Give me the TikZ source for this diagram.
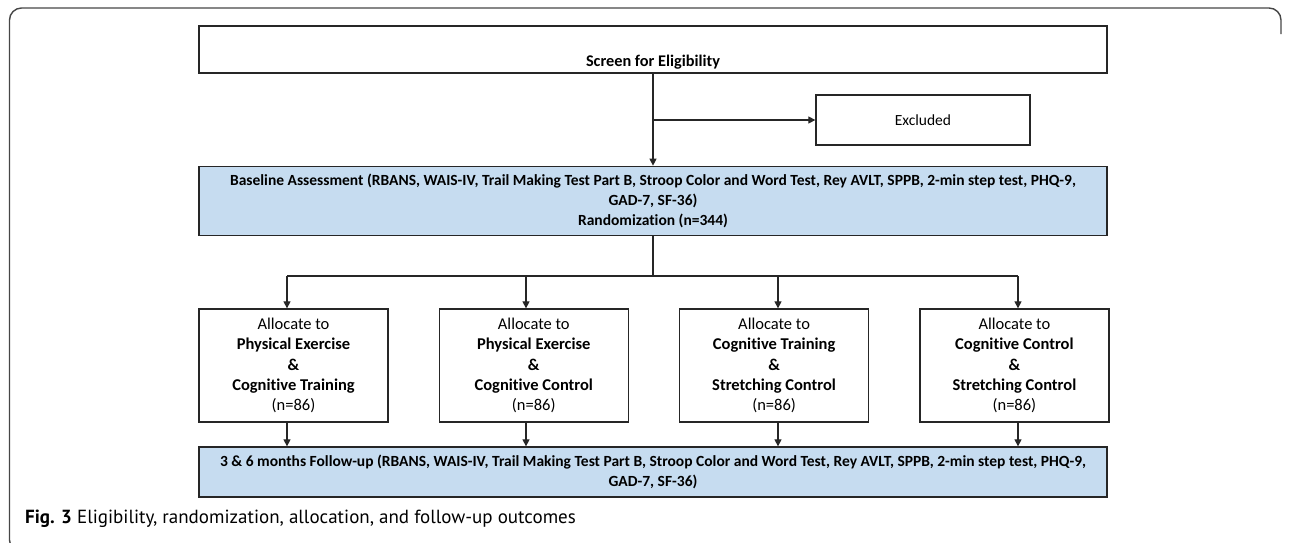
\documentclass[tikz,border=0pt]{standalone}
\usepackage{fontspec}
\setmainfont{Carlito}[Ligatures=NoCommon]
\newfontfamily\capfont{PT Sans}
\usetikzlibrary{positioning, arrows.meta}

\definecolor{boxblue}{RGB}{198,220,240}
\definecolor{framegray}{RGB}{70,70,70}

\begin{document}
\begin{tikzpicture}[
    x=1pt, y=-1pt,
    font=\fontsize{16.5}{20.3}\selectfont,
    box/.style={rectangle, draw=black!85, line width=1.3pt, align=center, fill=white},
    bluebox/.style={box, fill=boxblue, font=\fontsize{15.5}{20.3}\selectfont\bfseries, minimum width=908pt},
    allocbox/.style={box, minimum width=189pt, minimum height=113pt},
    arrow/.style={-{Triangle[length=7pt, width=7pt]}, line width=1.2pt, black!85},
    link/.style={line width=1.2pt, black!85}
]
\useasboundingbox (0,0) rectangle (1290,542);
\draw[framegray, line width=1.4pt, rounded corners=12pt] (1281,34) -- (1281,8) -- (9.5,8) -- (9.5,552) -- (40,552);

\node[box, minimum width=908pt, minimum height=47pt, font=\fontsize{16.3}{20.3}\selectfont\bfseries, text height=34pt, text depth=0pt] (screen) at (653,49.5) {Screen for Eligibility};
\node[box, minimum width=214pt, minimum height=50pt, font=\fontsize{15.5}{20.3}\selectfont] (excl) at (923,120) {Excluded};
\node[bluebox, minimum height=69pt, below=92pt of screen] (base) {Baseline Assessment (RBANS, WAIS-IV, Trail Making Test Part B, Stroop Color and Word Test, Rey AVLT, SPPB, 2-min step test, PHQ-9,\\GAD-7, SF-36)\\Randomization (n=344)};
\draw[arrow] (screen.south) -- (base.north);
\coordinate (exsplit) at (screen.south |- excl.west);
\draw[arrow] (exsplit) -- (excl.west);

\node[allocbox] (alloc1) at (293.5,365.5) {Allocate to\\\textbf{Physical Exercise}\\\textbf{\&}\\\textbf{Cognitive Training}\\(n=86)};
\node[allocbox, right=50pt of alloc1] (alloc2) {Allocate to\\\textbf{Physical Exercise}\\\textbf{\&}\\\textbf{Cognitive Control}\\(n=86)};
\node[allocbox, right=50pt of alloc2] (alloc3) {Allocate to\\\textbf{Cognitive Training}\\\textbf{\&}\\\textbf{Stretching Control}\\(n=86)};
\node[allocbox, right=50pt of alloc3] (alloc4) {Allocate to\\\textbf{Cognitive Control}\\\textbf{\&}\\\textbf{Stretching Control}\\(n=86)};

\node[bluebox, minimum height=50pt] (follow) at (653,472) {3 \& 6 months Follow-up (RBANS, WAIS-IV, Trail Making Test Part B, Stroop Color and Word Test, Rey AVLT, SPPB, 2-min step test, PHQ-9,\\GAD-7, SF-36)};

\coordinate (split) at (base.south |- 0,276);
\coordinate (col1) at (287,276);
\coordinate (col2) at (526,276);
\coordinate (col3) at (778,276);
\coordinate (col4) at (1018,276);
\draw[link] (base.south) -- (split);
\draw[link] (col1) -- (col4);
\foreach \i in {1,...,4}{
  \draw[arrow] (col\i) -- (col\i |- alloc\i.north);
  \draw[arrow] (col\i |- alloc\i.south) -- (col\i |- follow.north);
}

\node[anchor=west, inner sep=0pt, font=\capfont\fontsize{19}{22}\selectfont] (caption) at (25,519) {\textbf{Fig. 3} Eligibility, randomization, allocation, and follow-up outcomes};
\end{tikzpicture}
\end{document}
